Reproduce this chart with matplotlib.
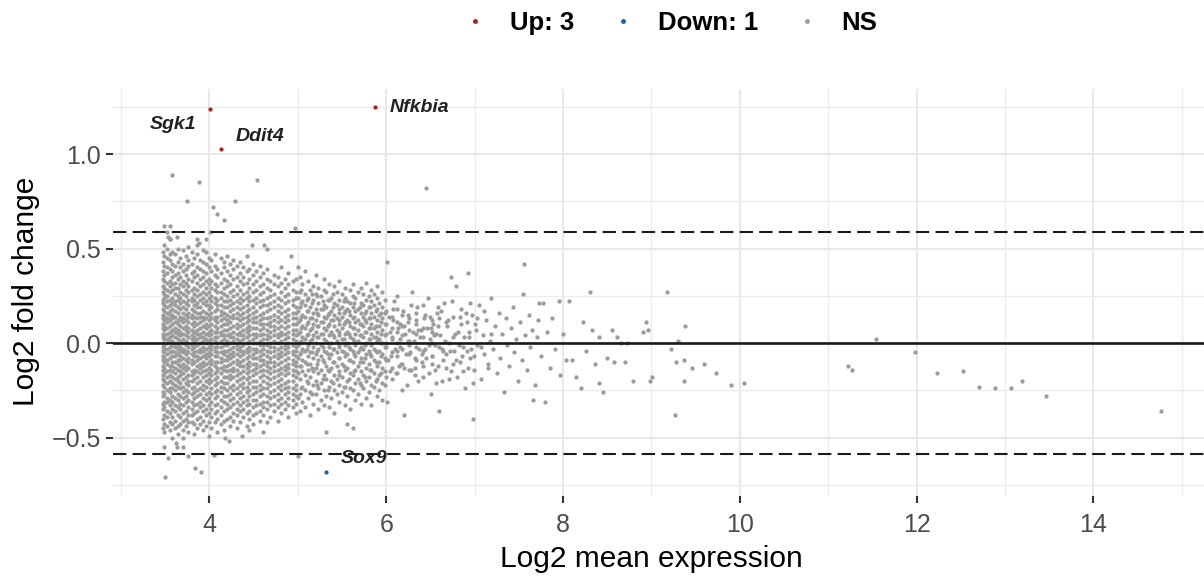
import matplotlib.pyplot as plt
from matplotlib.lines import Line2D

plt.rcParams['font.family'] = ['Liberation Sans', 'DejaVu Sans']

# significant genes
up_genes = ['Sgk1', 'Ddit4', 'Nfkbia']
up_mean = [4.01, 4.13, 5.87]
up_lfc = [1.236, 1.025, 1.247]
down_genes = ['Sox9']
down_mean = [5.32]
down_lfc = [-0.681]

legend_labels = ['Up: 3', 'Down: 1', 'NS']

# NS genes, dense part: one mean-expression value per column, LFC in hundredths
ns_col_mean = [3.47, 3.49, 3.52, 3.55, 3.58, 3.61, 3.64, 3.67, 3.70, 3.73, 3.76, 3.80,
               3.83, 3.86, 3.89, 3.93, 3.96, 3.99,
               4.02, 4.06, 4.09, 4.13, 4.16, 4.20, 4.23, 4.27, 4.31, 4.34, 4.38, 4.42,
               4.45, 4.49, 4.53, 4.57, 4.61, 4.65, 4.69, 4.73, 4.77, 4.81, 4.85, 4.89,
               4.94, 4.98,
               5.02, 5.05, 5.08, 5.11, 5.14, 5.17, 5.20, 5.23, 5.26, 5.29, 5.32, 5.35,
               5.38, 5.41, 5.44, 5.47, 5.50, 5.53, 5.56, 5.59, 5.62, 5.65, 5.68, 5.71,
               5.74, 5.77, 5.80, 5.83, 5.86, 5.89, 5.92, 5.95, 5.98,
               5.00, 5.04, 5.10, 5.16, 5.22, 5.28, 5.34, 5.40, 5.46, 5.52, 5.58, 5.64,
               5.70, 5.76, 5.82, 5.88, 5.94, 6.00, 6.06, 6.12, 6.18, 6.26, 6.34, 6.42,
               6.52]
ns_col_lfc = [
    "-45 -40 -35 -32 -28 -26 -22 -19 -17 -14 -12 -9 -7 -4 -2 0 3 5 8 10 13 15 18 21 23 27 30 34 38 43 48",
    "-47 -43 -38 -34 -31 -27 -23 -20 -16 -13 -10 -8 -5 -3 -1 2 4 7 9 12 14 17 20 24 26 29 33 36 41 46 52",
    "-44 -39 -36 -31 -29 -25 -21 -18 -15 -11 -9 -6 -3 0 2 5 8 11 13 16 19 22 25 28 32 37 40 45 50",
    "-46 -42 -37 -33 -30 -26 -24 -20 -17 -14 -12 -8 -5 -2 1 3 6 9 12 15 17 20 23 27 30 33 39 44 47 55",
    "-50 -43 -39 -35 -31 -28 -24 -21 -18 -15 -12 -10 -7 -4 -1 1 4 7 10 13 15 18 21 24 28 31 35 38 42 48",
    "-45 -41 -36 -33 -29 -25 -22 -19 -16 -13 -10 -7 -5 -2 0 3 6 8 11 14 17 20 22 26 29 32 36 41 47",
    "-48 -44 -38 -34 -30 -27 -23 -20 -18 -14 -11 -9 -6 -3 -1 2 5 7 10 12 16 19 23 25 29 34 37 43 50",
    "-43 -39 -35 -32 -28 -24 -21 -17 -15 -12 -9 -7 -4 -2 1 4 6 9 12 14 18 21 24 27 31 35 40 45",
    "-46 -41 -37 -33 -29 -26 -23 -19 -16 -13 -11 -8 -5 -3 0 2 5 8 11 13 16 19 22 26 30 33 38 42 49",
    "-44 -40 -36 -31 -28 -25 -21 -18 -14 -12 -9 -6 -4 -1 1 4 7 9 12 15 18 21 25 28 32 36 39 46",
    "-47 -42 -38 -34 -30 -26 -22 -20 -17 -13 -10 -8 -5 -2 0 3 6 8 11 14 16 20 23 27 30 34 41 44 51",
    "-42 -38 -35 -31 -27 -24 -20 -17 -15 -11 -9 -6 -3 -1 2 4 7 10 13 15 18 22 24 28 33 37 42 48",
    "-48 -43 -37 -33 -29 -26 -23 -19 -16 -14 -10 -7 -5 -2 1 3 6 9 11 14 17 20 23 26 29 35 38 45",
    "-45 -40 -36 -32 -28 -25 -21 -18 -15 -12 -9 -7 -4 -1 2 5 7 10 13 16 19 21 25 28 32 36 40 47 52",
    "-43 -39 -34 -31 -27 -24 -20 -16 -13 -11 -8 -5 -3 0 3 5 8 11 14 16 19 23 26 30 34 39 44",
    "-46 -41 -36 -33 -29 -25 -22 -18 -15 -12 -10 -7 -4 -2 1 3 6 9 12 14 17 21 24 27 31 35 38 43 49",
    "-44 -38 -35 -30 -27 -23 -20 -17 -14 -11 -8 -6 -3 0 2 5 8 10 13 16 20 22 26 29 33 37 42 48",
    "-49 -42 -37 -33 -29 -26 -21 -19 -16 -13 -10 -7 -5 -2 1 4 6 9 12 15 18 20 24 27 31 34 40 45",
    "-45 -39 -35 -31 -27 -24 -20 -17 -14 -11 -9 -6 -3 -1 2 5 7 10 13 16 19 22 25 29 33 38 44",
    "-42 -37 -33 -29 -26 -22 -19 -16 -12 -10 -7 -4 -2 1 3 6 9 12 14 17 21 24 28 31 36 41 47",
    "-47 -40 -36 -32 -28 -25 -21 -18 -15 -13 -10 -7 -5 -2 0 3 6 8 11 14 18 20 23 27 30 35 39",
    "-43 -38 -34 -30 -26 -23 -20 -16 -13 -10 -8 -5 -2 1 4 6 9 12 15 17 20 24 27 32 37 45",
    "-46 -41 -36 -31 -28 -24 -21 -18 -14 -12 -9 -6 -4 -1 2 4 7 10 13 16 19 22 26 29 34 40 43",
    "-40 -35 -32 -28 -25 -21 -18 -15 -12 -9 -7 -4 -1 1 4 7 10 12 15 19 22 25 30 33 38 46",
    "-44 -39 -34 -30 -27 -23 -19 -17 -14 -11 -8 -6 -3 0 3 5 8 11 14 17 20 23 27 31 36 42",
    "-41 -37 -32 -29 -25 -22 -18 -15 -13 -10 -7 -5 -2 1 3 6 9 13 15 18 21 25 28 34 39 44",
    "-45 -38 -35 -31 -27 -24 -20 -17 -14 -11 -9 -6 -3 -1 2 5 8 10 13 16 19 22 26 30 35 41",
    "-42 -36 -33 -29 -26 -22 -19 -16 -12 -10 -7 -4 -2 1 4 6 9 12 15 18 21 24 28 33 37 43",
    "-39 -35 -31 -28 -24 -21 -18 -15 -12 -9 -6 -4 -1 2 4 7 10 13 16 19 23 26 31 35 40",
    "-44 -37 -33 -30 -26 -23 -19 -16 -13 -11 -8 -5 -3 0 3 6 8 11 14 17 20 24 27 32 38 46",
    "-40 -36 -32 -28 -25 -21 -18 -15 -12 -10 -7 -4 -2 1 4 7 9 12 15 18 22 25 29 34 39",
    "-43 -38 -34 -30 -27 -23 -20 -17 -14 -11 -8 -6 -3 0 2 5 8 11 13 16 19 23 27 31 36 42",
    "-37 -33 -30 -26 -23 -20 -16 -13 -11 -8 -5 -3 0 3 5 8 11 14 17 21 24 28 33 38",
    "-41 -36 -32 -28 -25 -22 -18 -15 -12 -9 -7 -4 -1 1 4 7 10 12 15 19 22 26 30 35 41",
    "-38 -34 -31 -27 -24 -20 -17 -14 -11 -9 -6 -3 -1 2 5 8 10 13 16 20 23 27 31 37",
    "-42 -35 -31 -28 -24 -21 -18 -15 -12 -10 -7 -4 -1 2 4 7 10 13 17 20 24 29 34 39",
    "-39 -33 -29 -26 -22 -19 -16 -13 -10 -8 -5 -2 0 3 6 9 11 14 18 21 25 28 33",
    "-36 -32 -28 -25 -21 -18 -15 -12 -10 -7 -4 -2 1 4 7 9 12 15 19 22 26 31 36",
    "-41 -34 -30 -27 -23 -20 -17 -14 -11 -8 -6 -3 0 3 5 8 11 14 17 20 24 30 35",
    "-37 -32 -29 -25 -22 -19 -16 -13 -10 -7 -5 -2 1 4 6 9 12 16 19 23 27 32 40",
    "-35 -31 -27 -24 -21 -17 -14 -12 -9 -6 -3 -1 2 5 8 11 14 17 21 25 29 34",
    "-39 -33 -29 -26 -23 -20 -16 -13 -11 -8 -5 -2 0 3 6 9 12 15 18 22 26 31 37",
    "-34 -30 -27 -24 -20 -17 -14 -11 -9 -6 -4 -1 2 5 7 10 13 16 20 23 28 33",
    "-37 -32 -28 -25 -22 -18 -15 -12 -10 -7 -4 -2 1 4 7 10 13 16 19 24 27 34",
    "-36 -27 -19 -12 -6 0 6 12 19 27 35",
    "-31 -23 -15 -9 -3 3 9 15 22 31",
    "-34 -25 -17 -10 -4 2 8 14 20 26 38",
    "-29 -21 -14 -7 -1 5 11 17 24 33",
    "-38 -26 -18 -11 -5 1 7 13 19 28",
    "-32 -22 -15 -8 -2 4 10 16 23 30",
    "-27 -20 -13 -6 0 6 12 18 26 36",
    "-35 -24 -16 -9 -3 3 9 15 21 29",
    "-30 -21 -14 -7 -1 5 11 18 25",
    "-33 -25 -17 -10 -4 2 8 14 20 28 34",
    "-28 -19 -12 -5 1 7 13 19 27",
    "-34 -23 -15 -8 -2 4 10 16 23 31",
    "-29 -20 -13 -6 0 6 12 17 24",
    "-37 -25 -17 -10 -3 3 9 15 21 30",
    "-27 -19 -12 -5 1 7 13 20 27",
    "-31 -22 -15 -8 -2 4 10 16 23 33",
    "-26 -18 -11 -4 2 8 14 19 26",
    "-33 -23 -14 -7 -1 5 11 17 24 29",
    "-28 -20 -13 -6 0 6 12 18 22",
    "-35 -24 -16 -9 -3 3 9 15 21 28",
    "-25 -17 -10 -4 2 8 13 19 25 31",
    "-30 -21 -14 -7 -1 5 11 17 24",
    "-27 -19 -12 -5 1 7 12 18 27",
    "-32 -22 -15 -8 -2 4 10 16 21 29",
    "-24 -17 -10 -3 3 9 14 20 26",
    "-29 -20 -13 -6 0 6 11 17 23 32",
    "-26 -18 -11 -4 2 8 13 19 25",
    "-33 -22 -14 -7 -1 5 10 16 22 28",
    "-23 -16 -9 -3 3 8 14 20 26",
    "-28 -19 -12 -5 1 6 12 18 24 30",
    "-25 -17 -10 -4 2 9 15 21",
    "-30 -21 -13 -6 0 7 13 19 27",
    "-22 -15 -8 -2 4 10 16 23",
    "-29 -16 -8 -1 5 11 17 24 40",
    "-24 -12 -5 1 8 14 21 28",
    "-20 -11 -3 4 10 17 23",
    "-27 -13 -5 2 8 13 21 26",
    "-22 -11 -4 3 9 16 25",
    "-19 -9 -2 5 11 18 22",
    "-25 -14 -6 0 9 15 23",
    "-21 -10 -3 4 12 19 26",
    "-17 -8 -1 6 12 18",
    "-23 -12 -5 2 10 16 22",
    "-19 -9 -2 5 11 17",
    "-15 -6 1 8 14 21",
    "-21 -10 -3 4 10 19",
    "-18 -8 -1 6 12 16",
    "-14 -6 2 8 13 19",
    "-20 -10 -4 3 9 17",
    "-16 -7 0 5 11 16",
    "-18 -9 -2 5 10 17",
    "-13 -5 2 8 14",
    "-16 -7 0 6 11 18",
    "-11 -3 4 9 15",
    "-14 -6 1 7 13",
    "-9 -2 5 10 16",
    "-12 -4 3 8",
    "-7 0 6 12",
]

# NS genes, sparse part: "mean,lfc" pairs in hundredths
ns_tail = """
601,-31 603,14 605,-7 607,3 609,22 611,-16 613,8 615,-2 617,-11 619,17 621,5 623,-22
625,11 627,-5 629,27 631,1 633,-13 635,19 637,-3 639,7 641,-18 643,13 645,-8 647,24
649,2 651,-27 653,10 655,-1 657,16 659,-12 661,4 663,-20 665,21 667,-6 669,9 671,0
673,-15 675,14 677,-4 679,30 681,6 683,-10 685,18 687,-2 689,-24 691,11 693,3 695,-8
697,15 699,-14 701,7 703,-1 705,20 707,-19 709,4 711,-6 713,12 715,-11 717,1 719,24
721,-3 723,9 725,-16 727,16 729,-8 731,5 733,-26 735,13 737,-1 739,-12 741,8 743,19
745,-5 747,2 749,-20 751,11 753,-9 755,26 757,4 759,-14 761,15 763,-2 765,7
602,-9 604,6 606,-19 608,12 610,-3 612,25 614,-12 616,2 618,-25 620,9 622,-6 624,15
626,-1 628,-14 630,6 632,-8 634,12 636,-20 638,3 640,-10 642,20 644,-3 646,8 648,-16
650,14 652,-7 654,4 656,-21 658,9 660,-2 662,17 664,-9 666,1 668,-13 670,12 672,-4
674,22 676,-11 678,5 680,-18 682,-1 684,10 686,-7 688,3 690,16 692,-13 694,6 696,-3
698,-21 700,10 600,0 604,-15 608,18 612,-4 616,10 620,-13 624,1 628,20 632,-17 636,7
640,-6 644,15 648,-1 652,-11 656,5 660,13 664,-4
651,8 655,-14 659,19 663,-3 667,11 671,-19 675,3 679,-9 683,14 687,-15 691,-4 695,21
699,-7 703,13 707,-2 711,17 715,-13 719,5
756,42 766,-30 768,-22 770,3 772,12 773,21 775,-7 777,21 780,-31 782,6 785,-13 788,13
791,-3 795,22 797,-17 800,5 803,-9 807,22 810,-9 815,-18 820,-24 822,11 826,-4 831,27
833,7 836,-11 841,3 841,-21 845,-26 850,-8 855,7 858,-10 861,3 865,0 870,-10 872,0
879,-20 890,6 894,11 896,7 898,-20 901,-18 918,27 922,-3 927,-38 928,-10 930,1 937,-9
938,9 937,-20 946,-13 959,-11 973,-16 990,-22 1005,-21
1122,-12 1127,-14 1154,2 1198,-5 1223,-16 1252,-15 1270,-23 1289,-24 1307,-24 1319,-20
1346,-28 1476,-36
358,89 388,85 454,86 645,82 375,75 429,75 404,72 409,68 416,65 348,62 355,62 497,61
352,59 401,59 353,56 355,55 363,56 386,55 388,53 396,55 448,52 462,52 465,50 492,46
601,43 673,35 692,37
350,-71 384,-66 390,-68 349,-55 353,-61 363,-55 370,-55 376,-60 370,-50 417,-50 437,-49
500,-60 532,-47 698,-40 422,-52 405,-59 362,-53 445,-46 460,-47 555,-43 562,-45 620,-38
660,-36
"""

ns_x, ns_y = [], []
for m, s in zip(ns_col_mean, ns_col_lfc):
    for v in s.split():
        ns_x.append(m)
        ns_y.append(int(v) / 100)
for tok in ns_tail.split():
    a, b = tok.split(',')
    ns_x.append(int(a) / 100)
    ns_y.append(int(b) / 100)

col_up, col_down, col_ns = '#B31B21', '#1465AC', '#9C9C9C'
fc_cut = 0.585

fig = plt.figure(figsize=(12.04, 5.78), dpi=100)
ax = fig.add_axes([0.0936, 0.1419, 0.9119, 0.7045])

ax.scatter(ns_x, ns_y, s=9.5, c=col_ns, linewidths=0, zorder=2)
ax.scatter(up_mean, up_lfc, s=9, c=col_up, linewidths=0, zorder=3)
ax.scatter(down_mean, down_lfc, s=9, c=col_down, linewidths=0, zorder=3)

ax.axhline(0, color='#1a1a1a', lw=1.9, zorder=4)
for yc in (fc_cut, -fc_cut):
    ax.axhline(yc, color='#1a1a1a', lw=1.5, ls=(0, (6.4, 3.0)), zorder=4)

# gene labels
offsets = {'Sgk1': (-27, -11), 'Ddit4': (28, 9), 'Nfkbia': (32, 0), 'Sox9': (27, 9.5)}
for g, x, y in zip(up_genes + down_genes, up_mean + down_mean, up_lfc + down_lfc):
    ax.annotate(g, (x, y), xytext=offsets[g], textcoords='offset points',
                ha='center', va='center', fontsize=14, fontweight='bold',
                fontstyle='italic', color='#222222', zorder=5)

ax.set_xlim(2.905, 15.325)
ax.set_ylim(-0.809, 1.345)
ax.set_xticks([4, 6, 8, 10, 12, 14])
ax.set_xticks([3, 5, 7, 9, 11, 13, 15], minor=True)
ax.set_yticks([-0.5, 0.0, 0.5, 1.0])
ax.set_yticklabels(['\u22120.5', '0.0', '0.5', '1.0'])
ax.set_yticks([-0.75, -0.25, 0.25, 0.75, 1.25], minor=True)
ax.grid(which='major', color='#E8E8E8', lw=1.5, zorder=0)
ax.grid(which='minor', color='#EBEBEB', lw=1.0, zorder=0)
ax.set_axisbelow(True)
for sp in ax.spines.values():
    sp.set_visible(False)
ax.tick_params(which='major', length=5, width=1.5, color='#333333',
               labelcolor='#4D4D4D', labelsize=18)
ax.tick_params(axis='x', which='major', pad=7)
ax.tick_params(axis='y', which='major', pad=3.6)
ax.tick_params(which='minor', length=0)

fig.text(0.5407, 0.0196, 'Log2 mean expression', ha='center', va='baseline',
         fontsize=21.5)
fig.text(26 / 1204, 0.4957, 'Log2 fold change', rotation=90, ha='center',
         va='center', fontsize=21.5)

handles = [Line2D([], [], marker='o', ls='', ms=2.5, color=c)
           for c in (col_up, col_down, col_ns)]
fig.legend(handles, legend_labels, loc='center', bbox_to_anchor=(670 / 1204, 0.96),
           ncol=3, frameon=False, handlelength=1.0, handletextpad=0.85,
           columnspacing=1.4, prop={'size': 18.5, 'weight': 'bold'})

fig.savefig('out.png', dpi=100)
